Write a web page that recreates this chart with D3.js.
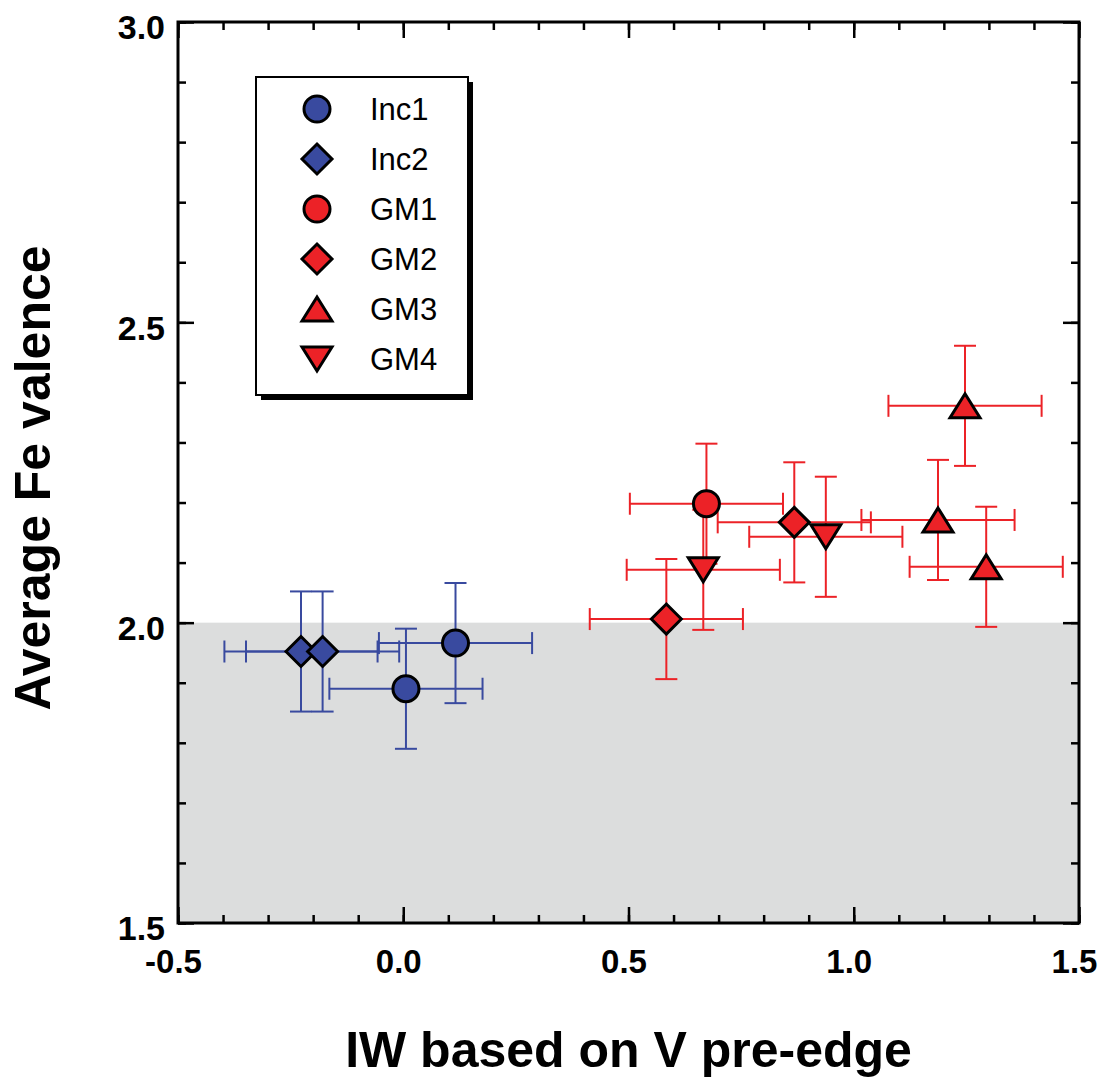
<!DOCTYPE html>
<html>
<head>
<meta charset="utf-8">
<script src="https://cdn.jsdelivr.net/npm/d3@7"></script>
<style>
  body { margin: 0; background: #fff; }
  svg { font-family: "Liberation Sans", Arial, sans-serif; }
</style>
</head>
<body>
<svg id="chart" width="1103" height="1077"></svg>
<script>
// series names, in legend order
const seriesNames = ["Inc1", "Inc2", "GM1", "GM2", "GM3", "GM4"];

// points as [x, y]
const inc1Points = [[0.006, 1.890], [0.116, 1.966]];
const inc2Points = [[-0.227, 1.952], [-0.179, 1.952]];
const gm1Points = [[0.673, 2.198]];
const gm2Points = [[0.584, 2.006], [0.868, 2.167]];
const gm3Points = [[1.247, 2.361], [1.187, 2.171], [1.294, 2.093]];
const gm4Points = [[0.666, 2.088], [0.938, 2.143]];

// error bar half widths (same for every point)
const xErr = 0.17;
const yErr = 0.1;

// axis ticks
const xMajorTicks = [-0.5, 0.0, 0.5, 1.0, 1.5];
const yMajorTicks = [1.5, 2.0, 2.5, 3.0];
const reducedLimit = 2.0; // grey band from bottom of axis up to this value

const blue = "#394a9f";
const red = "#ec2227";

const shapes = ["circle", "diamond", "circle", "diamond", "up", "down"];
const colors = [blue, blue, red, red, red, red];
const pointSets = [inc1Points, inc2Points, gm1Points, gm2Points, gm3Points, gm4Points];

const series = seriesNames.map((name, i) => ({
  name: name,
  points: pointSets[i],
  shape: shapes[i],
  color: colors[i],
}));

const margin = { left: 178, top: 22 };
const width = 901, height = 901;

const svg = d3.select("#chart");
const g = svg.append("g").attr("transform", `translate(${margin.left},${margin.top})`);

const x = d3.scaleLinear().domain([-0.5, 1.5]).range([0, width]);
const y = d3.scaleLinear().domain([1.5, 3.0]).range([height, 0]);

// plain hyphen minus like the original
const fmt = (v) => d3.format(".1f")(v).replace("\u2212", "-");

// marker path generator, centred on the bounding box
function markerPath(shape) {
  const p = d3.path();
  if (shape === "circle") {
    p.arc(0, 0, 13, 0, 2 * Math.PI);
  } else if (shape === "diamond") {
    const r = 15;
    p.moveTo(0, -r); p.lineTo(r, 0); p.lineTo(0, r); p.lineTo(-r, 0); p.closePath();
  } else if (shape === "up") {
    const w = 15, h = 12;
    p.moveTo(0, -h); p.lineTo(w, h); p.lineTo(-w, h); p.closePath();
  } else {
    const w = 15, h = 12;
    p.moveTo(0, h); p.lineTo(w, -h); p.lineTo(-w, -h); p.closePath();
  }
  return p.toString();
}

// grey band below Fe2+
g.append("rect")
  .attr("x", 0)
  .attr("y", y(reducedLimit))
  .attr("width", width)
  .attr("height", y(1.5) - y(reducedLimit))
  .attr("fill", "#dcdddd");

// minor / major ticks on all four sides, pointing inwards
const xMinor = d3.range(-0.5, 1.5001, 0.1).map((v) => +v.toFixed(2));
const yMinor = d3.range(1.5, 3.0001, 0.1).map((v) => +v.toFixed(2));

function tickAxis(axisFn, scale, values, size, translate) {
  g.append("g")
    .attr("transform", translate)
    .call(axisFn(scale).tickValues(values).tickSize(-size).tickFormat(""))
    .call((s) => s.select(".domain").remove())
    .call((s) => s.selectAll("line").attr("stroke", "#000").attr("stroke-width", 2.5));
}
tickAxis(d3.axisBottom, x, xMinor, 8, `translate(0,${height})`);
tickAxis(d3.axisBottom, x, xMajorTicks, 16, `translate(0,${height})`);
tickAxis(d3.axisTop, x, xMinor, 8, "translate(0,0)");
tickAxis(d3.axisTop, x, xMajorTicks, 16, "translate(0,0)");
tickAxis(d3.axisLeft, y, yMinor, 8, "translate(0,0)");
tickAxis(d3.axisLeft, y, yMajorTicks, 16, "translate(0,0)");
tickAxis(d3.axisRight, y, yMinor, 8, `translate(${width},0)`);
tickAxis(d3.axisRight, y, yMajorTicks, 16, `translate(${width},0)`);

// tick labels
g.append("g")
  .attr("transform", `translate(-5,${height})`)
  .call(d3.axisBottom(x).tickValues(xMajorTicks).tickSize(0).tickPadding(27).tickFormat(fmt))
  .call((s) => s.select(".domain").remove())
  .selectAll("text")
  .attr("font-size", 33)
  .attr("font-weight", "bold")
  .attr("font-family", "Liberation Sans, Arial, sans-serif")
  .attr("fill", "#000");

g.append("g")
  .attr("transform", "translate(0,6)")
  .call(d3.axisLeft(y).tickValues(yMajorTicks).tickSize(0).tickPadding(13).tickFormat(fmt))
  .call((s) => s.select(".domain").remove())
  .selectAll("text")
  .attr("font-size", 34)
  .attr("font-weight", "bold")
  .attr("font-family", "Liberation Sans, Arial, sans-serif")
  .attr("fill", "#000");

// error bars first, markers on top
const cap = 11;
series.forEach((s) => {
  const eb = g.append("g").attr("stroke", s.color).attr("stroke-width", 2).attr("fill", "none");
  s.points.forEach(([px, py]) => {
    const cx = x(px), cy = y(py);
    const x0 = x(px - xErr), x1 = x(px + xErr);
    const y0 = y(py - yErr), y1 = y(py + yErr);
    eb.append("line").attr("x1", x0).attr("x2", x1).attr("y1", cy).attr("y2", cy);
    eb.append("line").attr("x1", x0).attr("x2", x0).attr("y1", cy - cap).attr("y2", cy + cap);
    eb.append("line").attr("x1", x1).attr("x2", x1).attr("y1", cy - cap).attr("y2", cy + cap);
    eb.append("line").attr("x1", cx).attr("x2", cx).attr("y1", y0).attr("y2", y1);
    eb.append("line").attr("x1", cx - cap).attr("x2", cx + cap).attr("y1", y0).attr("y2", y0);
    eb.append("line").attr("x1", cx - cap).attr("x2", cx + cap).attr("y1", y1).attr("y2", y1);
  });
});

series.forEach((s) => {
  g.append("g")
    .selectAll("path")
    .data(s.points)
    .enter()
    .append("path")
    .attr("transform", (d) => `translate(${x(d[0])},${y(d[1])})`)
    .attr("d", markerPath(s.shape))
    .attr("fill", s.color)
    .attr("stroke", "#000")
    .attr("stroke-width", 3)
    .attr("stroke-linejoin", "miter");
});

// plot frame
g.append("rect")
  .attr("width", width)
  .attr("height", height)
  .attr("fill", "none")
  .attr("stroke", "#000")
  .attr("stroke-width", 3);

// legend with drop shadow
const legend = svg.append("g").attr("transform", "translate(256,77)");
const lw = 212, lh = 318;
legend.append("rect").attr("x", 5).attr("y", 5).attr("width", lw).attr("height", lh).attr("fill", "#000");
legend.append("rect").attr("width", lw).attr("height", lh).attr("fill", "#fff").attr("stroke", "#000").attr("stroke-width", 2);

series.forEach((s, i) => {
  const ly = 32 + i * 50;
  legend.append("path")
    .attr("transform", `translate(61,${ly})`)
    .attr("d", markerPath(s.shape))
    .attr("fill", s.color)
    .attr("stroke", "#000")
    .attr("stroke-width", 3);
  legend.append("text")
    .attr("x", 114)
    .attr("y", ly + 11)
    .attr("font-size", 31)
    .attr("fill", "#000")
    .text(s.name);
});

// axis titles
svg.append("text")
  .attr("x", margin.left + width / 2)
  .attr("y", 1067)
  .attr("text-anchor", "middle")
  .attr("font-size", 50)
  .attr("font-weight", "bold")
  .text("IW based on V pre-edge");

svg.append("text")
  .attr("transform", "translate(50,478) rotate(-90)")
  .attr("text-anchor", "middle")
  .attr("font-size", 50)
  .attr("font-weight", "bold")
  .text("Average Fe valence");
</script>
</body>
</html>
